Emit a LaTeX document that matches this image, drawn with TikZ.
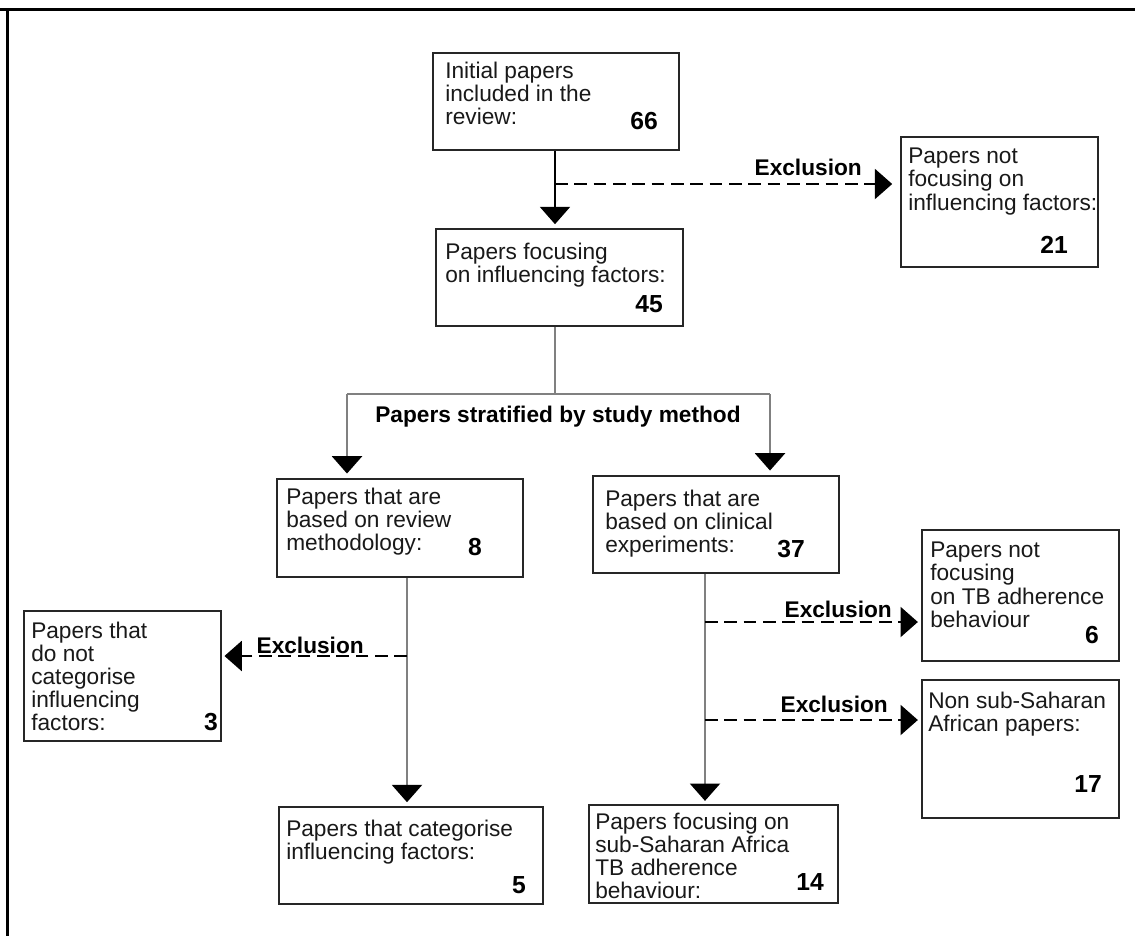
\documentclass[tikz,border=0pt]{standalone}
\usepackage{fontspec}
\setmainfont{Liberation Sans}
\usetikzlibrary{arrows.meta,fit}

\begin{document}
\begin{tikzpicture}[x=0.75pt,y=-0.75pt,
  box/.style={draw=black!85,line width=1.2pt,inner sep=0pt,fill=none},
  txt/.style={inner sep=0pt,align=left,anchor=north west,text=black!90,
    font=\fontsize{17}{17.3}\selectfont},
  num/.style={inner sep=0pt,anchor=base east,text=black,
    font=\fontsize{18.5}{18.5}\selectfont\bfseries},
  lbl/.style={inner sep=0pt,text=black,font=\fontsize{17}{17.3}\selectfont\bfseries},
  tip/.style={-{Triangle[length=13pt,width=22.5pt,color=black]}},
  solidline/.style={draw=black,line width=1.5pt},
  grayline/.style={draw=black!50,line width=1.7pt},
  dashline/.style={draw=black,line width=1.7pt,dash pattern=on 9.5pt off 5pt},
]
\useasboundingbox (0,0) rectangle (1135,936);
\fill[white] (0,0) rectangle (1135,936);

% frame along the top and left edges
\draw[line width=2.3pt,black] (0,9.5) -- (1135,9.5);
\draw[line width=2.3pt,black] (7.5,9.5) -- (7.5,936);

% boxes
\node[box,fit={(433,53) (679,150)}]   (A) {};
\node[box,fit={(436,229) (683,326)}]  (B) {};
\node[box,fit={(901,137) (1098,267)}] (C) {};
\node[box,fit={(277,479) (523,577)}]  (D) {};
\node[box,fit={(593,476) (839,573)}]  (F) {};
\node[box,fit={(922,530) (1119,661)}] (G) {};
\node[box,fit={(922,680) (1119,818)}] (H) {};
\node[box,fit={(24,611) (221,741)}]   (E) {};
\node[box,fit={(279,807) (543,904)}]  (J) {};
\node[box,fit={(589,805) (838,903)}]  (I) {};

% box texts
\node[txt] (At) at (445,62)  {Initial papers\\included in the\\review:};
\node[num] (An) at (658,129) {66};
\node[txt] (Bt) at (445,243) {Papers focusing\\on influencing factors:};
\node[num] (Bn) at (663,312) {45};
\node[txt] (Ct) at (908,148) {Papers not\\focusing on\\influencing factors:};
\node[num] (Cn) at (1068,253) {21};
\node[txt] (Dt) at (286,488) {Papers that are\\based on review\\methodology:};
\node[num] (Dn) at (482,555) {8};
\node[txt] (Ft) at (605,490) {Papers that are\\based on clinical\\experiments:};
\node[num] (Fn) at (805,557) {37};
\node[txt] (Gt) at (930,542) {Papers not\\focusing\\on TB adherence\\behaviour};
\node[num] (Gn) at (1099,643) {6};
\node[txt] (Ht) at (928,692) {Non sub-Saharan\\African papers:};
\node[num] (Hn) at (1102,792) {17};
\node[txt] (Et) at (31,622)  {Papers that\\do not\\categorise\\influencing\\factors:};
\node[num] (En) at (218,730) {3};
\node[txt] (Jt) at (286,820) {Papers that categorise\\influencing factors:};
\node[num] (Jn) at (526,893) {5};
\node[txt] (It) at (595,813) {Papers focusing on\\sub-Saharan Africa\\TB adherence\\behaviour:};
\node[num] (In) at (824,890) {14};

% branch points
\coordinate (e1) at (555,184);
\coordinate (sm) at (555,394);
\coordinate (sl) at (347,394);
\coordinate (sr) at (770,394);
\coordinate (dx) at (407,0);
\coordinate (fx) at (705,0);
\coordinate (e2) at (705,622);
\coordinate (e3) at (705,720);
\coordinate (e4) at (407,656);

% main flow
\draw[solidline,tip,shorten >=3pt] (A.south -| e1) -- (B.north -| e1);
\draw[dashline,tip,shorten >=6pt] (e1) -- (e1 -| C.west);
\node[lbl,anchor=base east] (x1) at (862,175) {Exclusion};

\draw[grayline] (B.south -| sm) -- (sm);
\draw[grayline] (sl) -- (sr);
\draw[grayline,tip,shorten >=3.5pt] (sl) -- (sl |- D.north);
\draw[grayline,tip,shorten >=3.5pt] (sr) -- (sr |- F.north);
\node[lbl,anchor=base] (strat) at (558,422) {Papers stratified by study method};

% review branch
\draw[grayline,tip,shorten >=3pt] (D.south -| dx) -- (J.north -| dx);
\draw[dashline,tip,shorten >=2pt] (e4) -- (e4 -| E.east);
\node[lbl,anchor=base east] (x4) at (364,653) {Exclusion};

% clinical branch
\draw[grayline,tip,shorten >=2.5pt] (F.south -| fx) -- (I.north -| fx);
\draw[dashline,tip,shorten >=2.5pt] (e2) -- (e2 -| G.west);
\node[lbl,anchor=base east] (x2) at (892,617) {Exclusion};
\draw[dashline,tip,shorten >=2.5pt] (e3) -- (e3 -| H.west);
\node[lbl,anchor=base east] (x3) at (888,712) {Exclusion};
\end{tikzpicture}
\end{document}
